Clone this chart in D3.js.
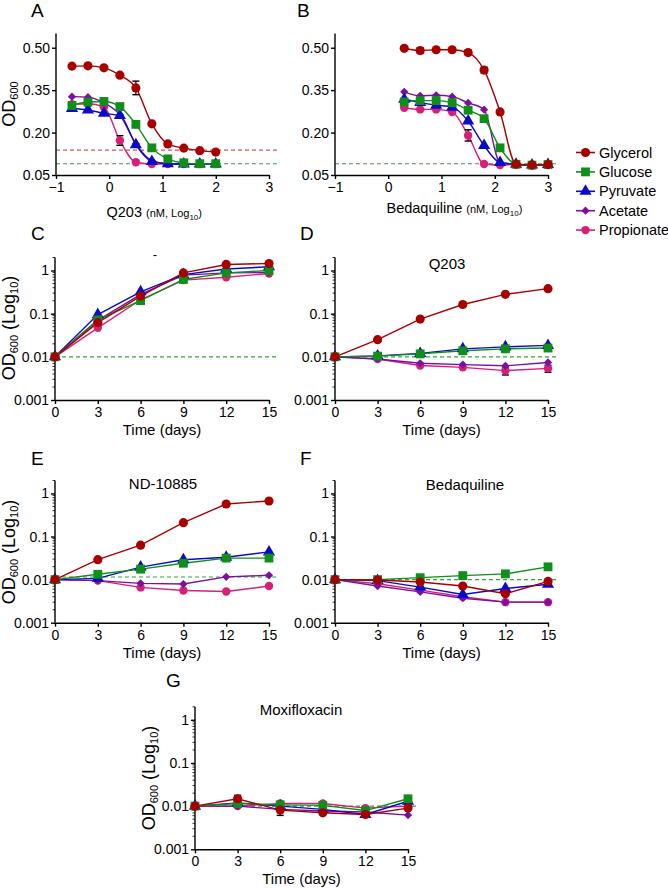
<!DOCTYPE html>
<html><head><meta charset="utf-8">
<script src="https://cdn.jsdelivr.net/npm/d3@7/dist/d3.min.js"></script>
<style>body{margin:0;background:#fff}svg{display:block}text{font-family:"Liberation Sans",Arial,sans-serif}</style>
</head><body>
<script>
// ---------- DATA ----------
const seriesNames = ["Glycerol","Glucose","Pyruvate","Acetate","Propionate"];
const doseQ203 = [-0.7,-0.4,-0.1,0.2,0.5,0.8,1.1,1.4,1.7,2.0];
const doseBdq = [0.3,0.6,0.9,1.2,1.5,1.8,2.1,2.4,2.7,3.0];
const days = [0,3,6,9,12,15];
const odA = [
  [0.435,0.436,0.429,0.403,0.358,0.231,0.160,0.145,0.136,0.131],
  [0.296,0.308,0.310,0.292,0.229,0.146,0.107,0.093,0.090,0.090],
  [0.285,0.280,0.268,0.260,0.157,0.098,0.090,0.089,0.089,0.089],
  [0.327,0.325,0.305,0.262,0.160,0.101,0.090,0.089,0.089,0.089],
  [0.300,0.302,0.290,0.172,0.095,0.089,0.089,0.089,0.089,0.089]
];
const odB = [
  [0.498,0.490,0.493,0.493,0.483,0.421,0.273,0.088,0.085,0.087],
  [0.308,0.313,0.313,0.306,0.279,0.249,0.146,0.088,0.085,0.087],
  [0.318,0.306,0.297,0.290,0.241,0.154,0.094,0.088,0.085,0.087],
  [0.344,0.330,0.332,0.327,0.305,0.281,0.094,0.088,0.085,0.087],
  [0.288,0.282,0.282,0.273,0.190,0.089,0.085,0.088,0.085,0.087]
];
const odC = [
  [0.01,0.062,0.255,0.88,1.38,1.45],
  [0.01,0.072,0.20,0.62,0.88,1.0],
  [0.01,0.095,0.32,0.80,1.08,1.22],
  [0.01,0.07,0.28,0.78,0.88,0.90],
  [0.01,0.047,0.21,0.60,0.70,0.85]
];
const odD = [
  [0.01,0.025,0.075,0.163,0.28,0.38],
  [0.01,0.0104,0.0117,0.0138,0.0153,0.016],
  [0.01,0.0105,0.012,0.0153,0.017,0.0184],
  [0.01,0.0089,0.0071,0.0066,0.0062,0.0074],
  [0.01,0.0089,0.0063,0.0057,0.0048,0.0054]
];
const odE = [
  [0.01,0.029,0.063,0.21,0.57,0.67],
  [0.01,0.0133,0.0175,0.024,0.0316,0.0316],
  [0.01,0.0107,0.0195,0.029,0.033,0.044],
  [0.01,0.0095,0.0082,0.0079,0.0116,0.0126],
  [0.01,0.0095,0.0066,0.0056,0.0053,0.0071]
];
const odF = [
  [0.01,0.0098,0.0088,0.0071,0.0047,0.0091],
  [0.01,0.01,0.0111,0.0124,0.0136,0.0198],
  [0.01,0.0095,0.0067,0.0045,0.0062,0.0078],
  [0.01,0.0071,0.0052,0.0037,0.003,0.003],
  [0.01,0.008,0.0057,0.004,0.003,0.003]
];
const odG = [
  [0.01,0.0148,0.0081,0.007,0.0064,0.009],
  [0.01,0.0115,0.0107,0.0104,0.0079,0.0148],
  [0.01,0.0119,0.01,0.0084,0.0064,0.013],
  [0.01,0.01,0.0084,0.0077,0.0073,0.0062],
  [0.01,0.01,0.0115,0.0115,0.009,0.01]
];
// sparse error bars: [series index, point index, error]
const errA = [[0,4,0.024],[4,3,0.017]];
const errB = [[0,1,0.010],[0,4,0.008],[0,5,0.010],[4,4,0.020]];
const errD = [[4,4,0.0010],[4,5,0.0010]];
const errG = [[0,1,0.003],[0,2,0.002]];
const errNone = [];
// reference (dashed) lines: [value, series index for colour]
const refA = [[0.138,0],[0.09,1]];
const refB = [[0.09,1]];
const refC = [[0.01,1]];
const refD = [[0.01,1]];
const refE = [[0.0115,1]];
const refF = [[0.01,1]];
const refG = [[0.01,1]];
const linTicksY = [0.05,0.20,0.35,0.50];
const linTicksX = [-1,0,1,2,3];
const logTicksY = [0.001,0.01,0.1,1];
const dayTicks = [0,3,6,9,12,15];

// ---------- STYLE ----------
const colors = ["#a80000","#0f8f1a","#0a0ac8","#7a10a0","#d81f78"];
const dashColors = ["#d9505a","#3aa040"];
const symbols = [d3.symbolCircle,d3.symbolSquare,d3.symbolTriangle,d3.symbolSquare,d3.symbolCircle];
const symSizes = [66,78,64,34,56];
const symRot = [0,0,0,45,0];
const drawOrder = [4,3,2,1,0];
const FONT = '"Liberation Sans",Arial,sans-serif';

const svg = d3.select("body").append("svg").attr("width",668).attr("height",889);

function marker(g, si, x, y){
  g.append("path").attr("d", d3.symbol().type(symbols[si]).size(symSizes[si])())
    .attr("transform", `translate(${x},${y}) rotate(${symRot[si]})`)
    .attr("fill", colors[si]);
}

function panel(cfg){
  const g = svg.append("g");
  const x = d3.scaleLinear().domain(cfg.xDomain).range(cfg.xRange);
  const y = cfg.log ? d3.scaleLog().domain(cfg.yDomain).range(cfg.yRange)
                    : d3.scaleLinear().domain(cfg.yDomain).range(cfg.yRange);
  cfg.refs.forEach(([v,c])=>{
    g.append("line").attr("x1",cfg.xRange[0]).attr("x2",cfg.refEnd)
      .attr("y1",y(v)).attr("y2",y(v))
      .attr("stroke",dashColors[c]).attr("stroke-width",1.1).attr("stroke-dasharray","4,3");
  });
  if(cfg.log){
    const minors=[];
    [0.001,0.01,0.1,1].forEach(d=>{for(let k=2;k<=9;k++){const v=d*k; if(v<=cfg.yDomain[1]) minors.push(v);}});
    g.selectAll(null).data(minors).enter().append("line")
      .attr("x1",cfg.xRange[0]-2.5).attr("x2",cfg.xRange[0]).attr("y1",d=>y(d)).attr("y2",d=>y(d))
      .attr("stroke","#000").attr("stroke-width",0.8);
  }
  const ax = g.append("g").attr("transform",`translate(0,${cfg.yRange[0]})`)
    .call(d3.axisBottom(x).tickValues(cfg.xTicks).tickSize(4).tickSizeOuter(0).tickPadding(3).tickFormat(d3.format("d")));
  const ay = g.append("g").attr("transform",`translate(${cfg.xRange[0]},0)`)
    .call(d3.axisLeft(y).tickValues(cfg.yTicks).tickSize(4).tickSizeOuter(0).tickPadding(2)
      .tickFormat(cfg.log ? (d=>String(d)) : d3.format(".2f")));
  [ax,ay].forEach(a=>{
    a.attr("font-size",null).attr("font-family",null);
    a.selectAll("path,line").attr("stroke","#000").attr("stroke-width",1.4);
    a.selectAll("text").style("font-family",FONT).style("font-size","14px").attr("fill","#000");
  });
  ay.select(".domain").attr("d",`M0,${cfg.yRange[0]}V${cfg.yRange[1]}`);
  const line = d3.line().x(d=>x(d[0])).y(d=>y(d[1])).curve(cfg.smooth ? d3.curveMonotoneX : d3.curveLinear);
  drawOrder.forEach(si=>{
    const pts = cfg.xs.map((xv,i)=>[xv,cfg.data[si][i]]);
    g.append("path").attr("d",line(pts)).attr("fill","none").attr("stroke",colors[si]).attr("stroke-width",1.4);
  });
  cfg.errs.forEach(([si,pi,e])=>{
    const xv = x(cfg.xs[pi]), v = cfg.data[si][pi];
    const y1=y(v+e), y2=y(Math.max(v-e,cfg.yDomain[0]));
    g.append("line").attr("x1",xv).attr("x2",xv).attr("y1",y1).attr("y2",y2).attr("stroke","#000").attr("stroke-width",1.2);
    [y1,y2].forEach(yy=>g.append("line").attr("x1",xv-3.5).attr("x2",xv+3.5).attr("y1",yy).attr("y2",yy).attr("stroke","#000").attr("stroke-width",1.4));
  });
  drawOrder.forEach(si=>{
    cfg.xs.forEach((xv,i)=>marker(g,si,x(xv),y(cfg.data[si][i])));
  });
  if(cfg.title){
    g.append("text").attr("x",cfg.title[1]).attr("y",cfg.title[2]).attr("text-anchor","middle")
      .attr("font-size",15).attr("fill","#000").text(cfg.title[0]);
  }
  g.append("text").attr("x",cfg.letter[1]).attr("y",cfg.letter[2]).attr("font-size",19).attr("fill","#000").text(cfg.letter[0]);
  if(cfg.xlabel==="time"){
    g.append("text").attr("x",(cfg.xRange[0]+cfg.xRange[1])/2).attr("y",cfg.yRange[0]+35).attr("text-anchor","middle")
      .attr("font-size",15).attr("fill","#000").text("Time (days)");
  } else if(cfg.xlabel){
    const t = g.append("text").attr("x",cfg.xlabel[1]).attr("y",cfg.xlabel[2]).attr("font-size",14.5).attr("fill","#000");
    t.append("tspan").text(cfg.xlabel[0]+" ");
    t.append("tspan").attr("font-size",11).text("(nM, Log");
    t.append("tspan").attr("font-size",8).attr("dy",3).text("10");
    t.append("tspan").attr("font-size",11).attr("dy",-3).text(")");
  }
  if(cfg.ylabel){
    const t = g.append("text").attr("transform",`translate(${cfg.ylabel[0]},${cfg.ylabel[1]}) rotate(-90)`)
      .attr("text-anchor","middle").attr("font-size",18).attr("fill","#000");
    t.append("tspan").text("OD");
    t.append("tspan").attr("font-size",11).attr("dy",3).text("600");
    if(cfg.log){
      t.append("tspan").attr("dy",-3).text(" (Log");
      t.append("tspan").attr("font-size",11).attr("dy",3).text("10");
      t.append("tspan").attr("dy",-3).text(")");
    }
  }
  return {g,x,y};
}

const lin = {log:false,yDomain:[0.05,0.55],xDomain:[-1,3],yTicks:linTicksY,xTicks:linTicksX,smooth:true};
const lg = {log:true,yDomain:[0.001,2],xDomain:[0,15],yTicks:logTicksY,xTicks:dayTicks,smooth:false,xlabel:"time"};

panel({...lin,xRange:[56,269],yRange:[175,33.6],xs:doseQ203,data:odA,errs:errA,refs:refA,refEnd:278,
  letter:["A",31,17],xlabel:["Q203",106.5,217],ylabel:[15,104]});
panel({...lin,xRange:[335,548],yRange:[175,33.6],xs:doseBdq,data:odB,errs:errB,refs:refB,refEnd:558,
  letter:["B",297,17],xlabel:["Bedaquiline",386.5,213]});
panel({...lg,xRange:[55,269],yRange:[400,257.5],xs:days,data:odC,errs:errNone,refs:refC,refEnd:278,
  letter:["C",31,240],ylabel:[15,328]});
panel({...lg,xRange:[335,548],yRange:[400,257.5],xs:days,data:odD,errs:errD,refs:refD,refEnd:557,
  letter:["D",300,240],title:["Q203",447,268.5]});
panel({...lg,xRange:[55,269],yRange:[622.7,480.5],xs:days,data:odE,errs:errNone,refs:refE,refEnd:278,
  letter:["E",31,465],ylabel:[15,552],title:["ND-10885",163,488.5]});
panel({...lg,xRange:[335,548],yRange:[622.7,480.5],xs:days,data:odF,errs:errNone,refs:refF,refEnd:557,
  letter:["F",300,465],title:["Bedaquiline",465,489.5]});
panel({...lg,xRange:[195,408],yRange:[849.3,706.8],xs:days,data:odG,errs:errG,refs:refG,refEnd:418,
  letter:["G",166,687],ylabel:[155,778],title:["Moxifloxacin",301,714.5]});

svg.append("text").attr("x",155).attr("y",259).attr("text-anchor","middle").attr("font-size",13).text("-");

const legend = svg.append("g");
seriesNames.forEach((name,i)=>{
  const yy = 152.5 + i*19.4;
  legend.append("line").attr("x1",576).attr("x2",595).attr("y1",yy).attr("y2",yy).attr("stroke",colors[i]).attr("stroke-width",1.6);
  marker(legend,i,585.5,yy);
  legend.append("text").attr("x",599).attr("y",yy+5).attr("font-size",14.5).attr("fill","#000").text(name);
});
</script>
</body></html>
